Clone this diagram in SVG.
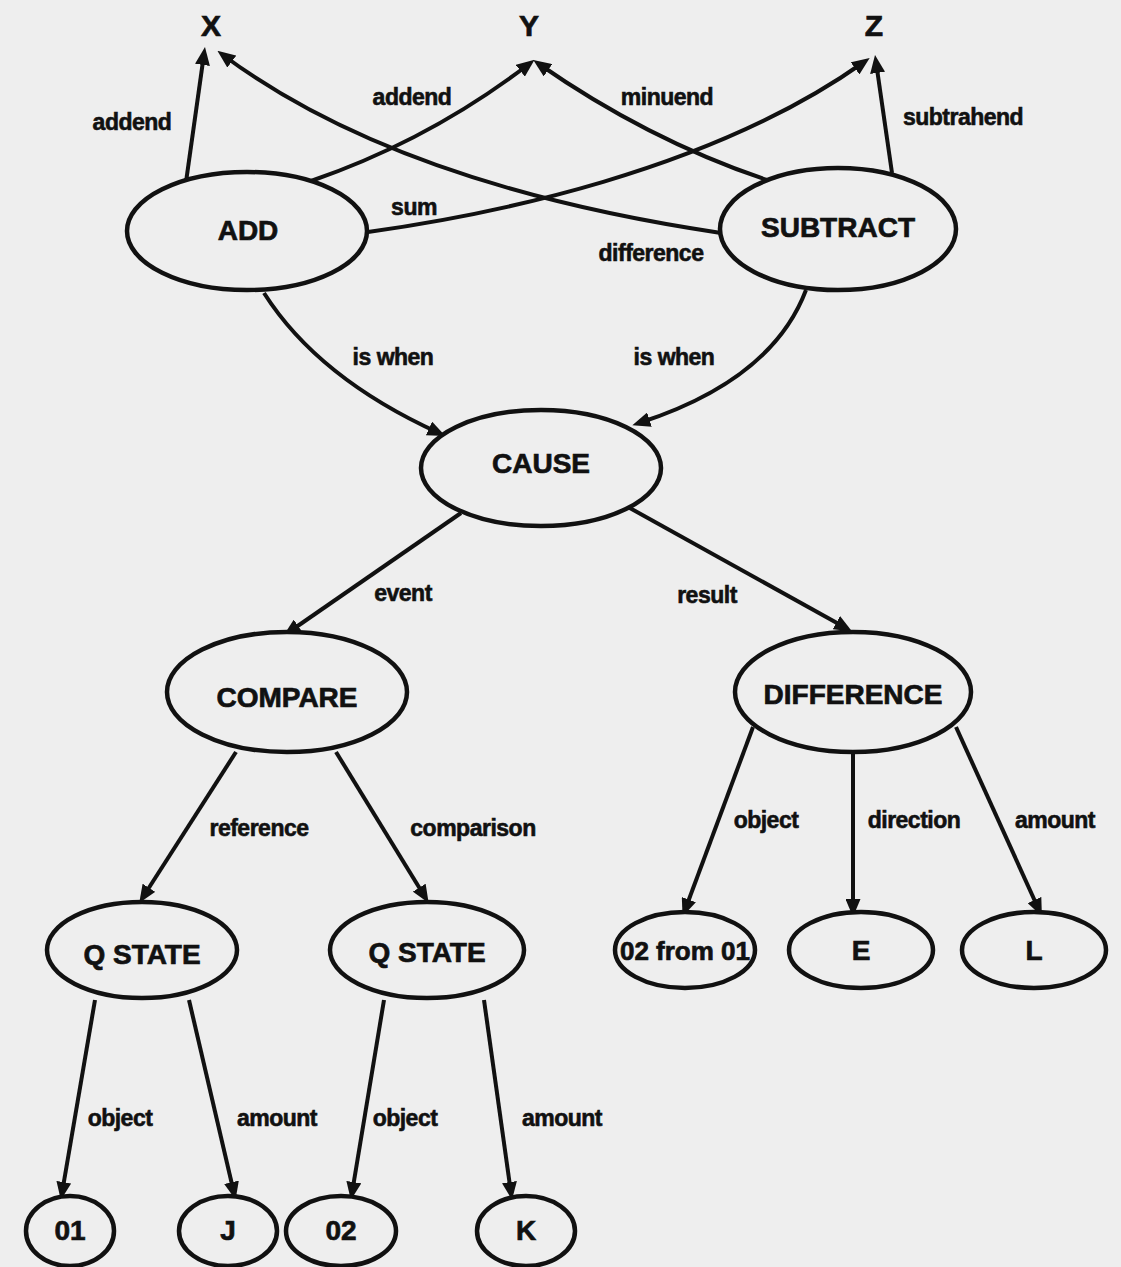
<svg xmlns="http://www.w3.org/2000/svg" width="1121" height="1267" viewBox="0 0 1121 1267">
<defs>
<marker id="ah" viewBox="0 0 18 15" refX="11" refY="7.5" markerWidth="18" markerHeight="15" markerUnits="userSpaceOnUse" orient="auto">
<path d="M0,0 L18,7.5 L0,15 z" fill="#111"/>
</marker>
<style>
.n ellipse{fill:#eeeeee;stroke:#111;stroke-width:4.5}
.n text{font-family:"Liberation Sans",Arial,sans-serif;font-weight:bold;font-size:28px;fill:#111;stroke:#111;stroke-width:0.7;text-anchor:middle}
.c path{fill:none;stroke:#111;stroke-width:4;marker-end:url(#ah)}
.l{font-family:"Liberation Sans",Arial,sans-serif;font-weight:bold;font-size:23px;fill:#111;stroke:#111;stroke-width:0.6;text-anchor:middle;letter-spacing:-0.5px}
.t{font-family:"Liberation Sans",Arial,sans-serif;font-weight:bold;font-size:30px;fill:#111;stroke:#111;stroke-width:0.7;text-anchor:middle}
</style>
</defs>
<rect width="1121" height="1267" fill="#eeeeee"/>
<g id="connectors" class="c">
<path d="M186,182 L204,54"/>
<path d="M311,181 Q430,140 529,64"/>
<path d="M767,180 Q648,140 539,64"/>
<path d="M892,173 L876,62"/>
<path d="M368,232 C489,215 709,172 864,62"/>
<path d="M721,233 C600,215 380,172 223,55"/>
<path d="M264,293 Q318,378 439,433"/>
<path d="M806,290 Q772,380 639,423"/>
<path d="M461,513 L289,632"/>
<path d="M628,507 L846,628"/>
<path d="M236,752 L143,897"/>
<path d="M336,752 L425,897"/>
<path d="M753,727 L685,910"/>
<path d="M853,752 L853,910"/>
<path d="M956,727 L1039,910"/>
<path d="M95,1000 L62,1193"/>
<path d="M189,1000 L234,1193"/>
<path d="M384,1000 L352,1193"/>
<path d="M484,1000 L511,1193"/>
</g>
<g id="labels">
<text class="l" x="132" y="130">addend</text>
<text class="l" x="412" y="105">addend</text>
<text class="l" x="667" y="105">minuend</text>
<text class="l" x="963" y="125">subtrahend</text>
<text class="l" x="414" y="215">sum</text>
<text class="l" x="651" y="261">difference</text>
<text class="l" x="393" y="365">is when</text>
<text class="l" x="674" y="365">is when</text>
<text class="l" x="403" y="601">event</text>
<text class="l" x="707" y="603">result</text>
<text class="l" x="259" y="836">reference</text>
<text class="l" x="473" y="836">comparison</text>
<text class="l" x="766" y="828">object</text>
<text class="l" x="914" y="828">direction</text>
<text class="l" x="1055" y="828">amount</text>
<text class="l" x="120" y="1126">object</text>
<text class="l" x="277" y="1126">amount</text>
<text class="l" x="405" y="1126">object</text>
<text class="l" x="562" y="1126">amount</text>
</g>
<g id="X"><text class="t" x="211" y="36">X</text></g>
<g id="Y"><text class="t" x="529" y="36">Y</text></g>
<g id="Z"><text class="t" x="874" y="36">Z</text></g>
<g id="ADD" class="n"><ellipse cx="247" cy="231" rx="120" ry="59"/><text x="248" y="240">ADD</text></g>
<g id="SUBTRACT" class="n"><ellipse cx="838" cy="229" rx="118" ry="61"/><text x="838" y="237">SUBTRACT</text></g>
<g id="CAUSE" class="n"><ellipse cx="541" cy="468" rx="120" ry="58"/><text x="541" y="473">CAUSE</text></g>
<g id="COMPARE" class="n"><ellipse cx="287" cy="692" rx="120" ry="60"/><text x="287" y="707">COMPARE</text></g>
<g id="DIFFERENCE" class="n"><ellipse cx="853" cy="692" rx="118" ry="60"/><text x="853" y="704">DIFFERENCE</text></g>
<g id="QSTATE1" class="n"><ellipse cx="142" cy="950" rx="95" ry="48"/><text x="142" y="964">Q STATE</text></g>
<g id="QSTATE2" class="n"><ellipse cx="427" cy="950" rx="97" ry="48"/><text x="427" y="962">Q STATE</text></g>
<g id="O2F" class="n"><ellipse cx="685" cy="950" rx="70" ry="38"/><text x="685" y="960" style="font-size:26px">02 from 01</text></g>
<g id="E" class="n"><ellipse cx="861" cy="950" rx="72" ry="38"/><text x="861" y="960">E</text></g>
<g id="L" class="n"><ellipse cx="1034" cy="950" rx="72" ry="38"/><text x="1034" y="960">L</text></g>
<g id="N01" class="n"><ellipse cx="70" cy="1231" rx="44" ry="35"/><text x="70" y="1240">01</text></g>
<g id="J" class="n"><ellipse cx="228" cy="1231" rx="49" ry="35"/><text x="228" y="1240">J</text></g>
<g id="N02" class="n"><ellipse cx="341" cy="1231" rx="55" ry="35"/><text x="341" y="1240">02</text></g>
<g id="K" class="n"><ellipse cx="526" cy="1231" rx="49" ry="35"/><text x="526" y="1240">K</text></g>
</svg>
